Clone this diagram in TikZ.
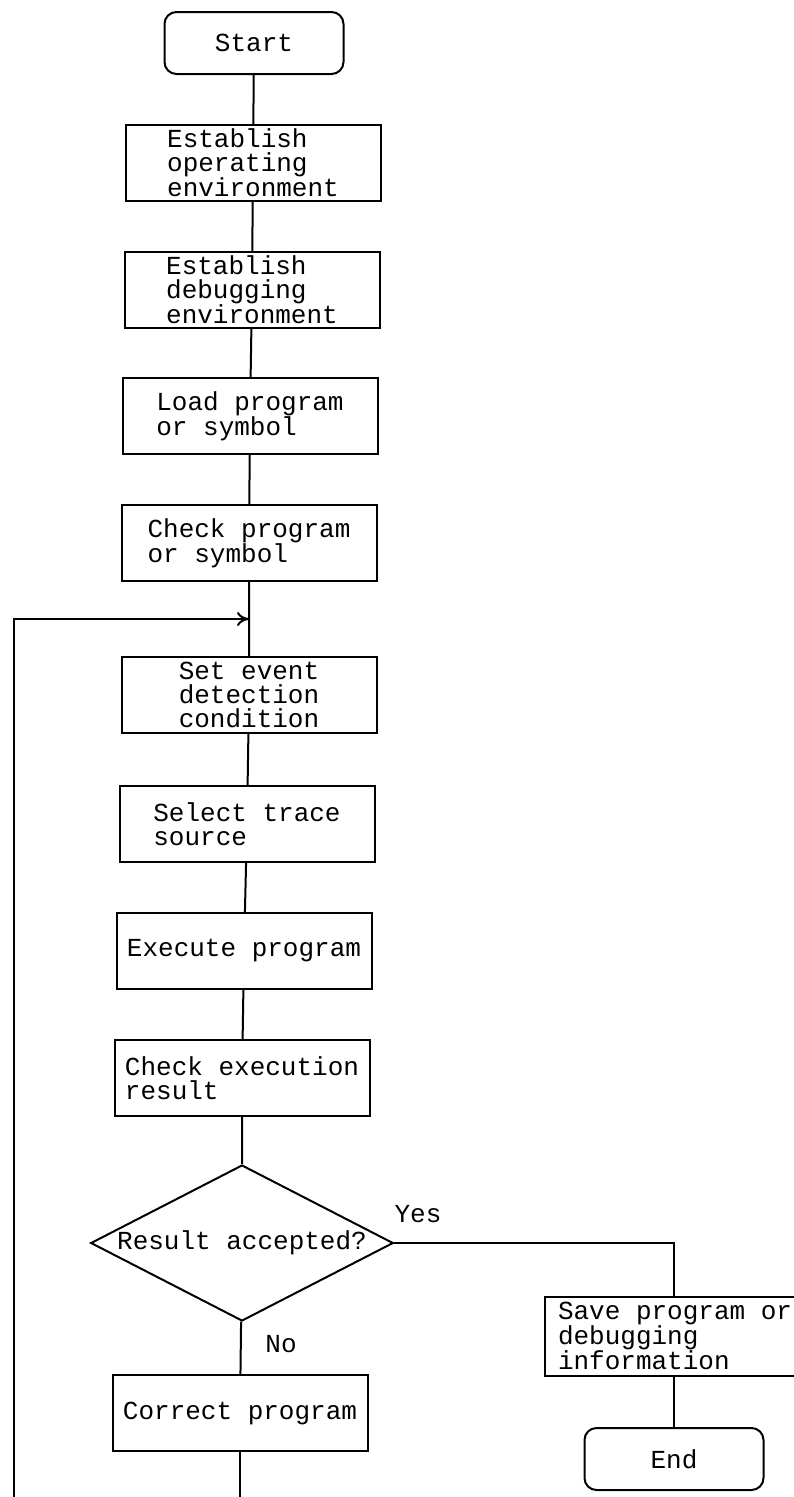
\documentclass[tikz,border=0pt]{standalone}
\usepackage{fontspec}
\newfontfamily\flowfont{Liberation Mono}
\usetikzlibrary{shapes.geometric,arrows.meta,calc}

\begin{document}
\begin{tikzpicture}[x=1pt,y=-1pt,line width=2pt,
  font=\flowfont\fontsize{26}{24}\selectfont,
  box/.style={draw,minimum width=255,minimum height=76,align=left,inner sep=2},
  term/.style={draw,rounded corners=12,minimum width=179,minimum height=62},
  decision/.style={draw,diamond,aspect=1.94,minimum width=302,minimum height=156,inner sep=1},
  >={To[length=12pt,width=14pt]}]

% Frame
\clip (0,0) rectangle (794,1497);

% Steps
\node[term] (start) at (254,43) {Start};
\node[box] (openv) at (253,163) {Establish\\operating\\environment};
\node[box] (dbgenv) at (252,290) {Establish\\debugging\\environment};
\node[box] (load) at (250,416) {Load program\\or symbol};
\node[box] (chkprog) at (249,543) {Check program\\or symbol};
\node[box] (setev) at (249,695) {Set event\\detection\\condition};
\node[box] (trace) at (247,824) {Select trace\\source};
\node[box] (exec) at (244,951) {Execute program};
\node[box] (chkres) at (242,1078) {Check execution\\result};
\node[decision] (accept) at (242,1243) {Result accepted?};
\node[box] (fix) at (240,1413) {Correct program};
\node[box,anchor=west,minimum width=0,inner xsep=13,minimum height=79] (save) at (544,1336) {Save program or\\debugging\\information};
\node[term] (stop) at (674,1459) {End};

% Main line
\draw (start) -- (openv) -- (dbgenv) -- (load) -- (chkprog) -- (setev) -- (trace)
  -- (exec) -- (chkres) -- (accept) -- (fix);

% Loop back
\coordinate (merge) at ($(chkprog.south)!0.5!(setev.north)$);
\coordinate (loopfoot) at (14,1500);
\draw[->] (loopfoot) |- (merge);
\draw (fix.south) -- (fix.south |- loopfoot);

% Yes branch
\draw (accept.east) -| ($(save.north west)+(130,0)$);
\draw ($(save.south west)+(130,0)$) -- (stop.north);

% Labels
\node (yes) at (418,1214) {Yes};
\node (no) at (281,1344) {No};

\end{tikzpicture}
\end{document}
